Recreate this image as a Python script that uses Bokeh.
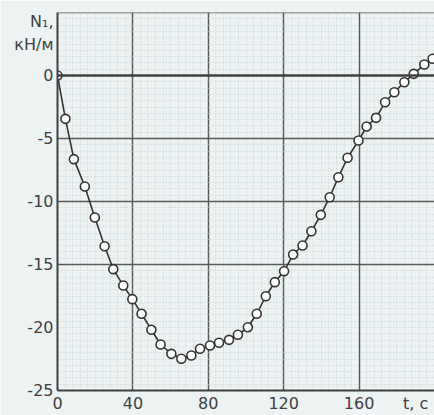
from bokeh.plotting import figure
from bokeh.models import FixedTicker, Span, Range1d
from bokeh.embed import file_html
from bokeh.resources import INLINE

# data
t_s = [0, 4.2, 8.7, 14.5, 19.8, 25.0, 29.6, 34.9, 39.7, 44.6, 49.8, 54.7, 60.4, 65.7,
       71.0, 75.6, 80.9, 85.7, 91.0, 95.7, 101.0, 105.7, 110.5, 115.3, 120.2, 125.0,
       130.0, 134.7, 139.7, 144.4, 149.0, 153.9, 159.7, 164.0, 169.0, 173.8, 178.7,
       184.0, 189.0, 194.6, 199.0]
n1 = [0, -3.44, -6.64, -8.81, -11.27, -13.55, -15.37, -16.67, -17.75, -18.91, -20.18,
      -21.35, -22.09, -22.48, -22.22, -21.69, -21.43, -21.21, -20.98, -20.58, -19.98,
      -18.91, -17.52, -16.4, -15.53, -14.21, -13.49, -12.36, -11.06, -9.66, -8.07,
      -6.53, -5.16, -4.05, -3.36, -2.12, -1.33, -0.53, 0.13, 0.87, 1.33]
x_ticks = [0, 40, 80, 120, 160]
y_ticks = [0, -5, -10, -15, -20, -25]
x_grid = [40, 80, 120, 160]
y_grid = [5, -5, -10, -15]
x_title = "t, c"
y_title = ["N₁,", "кН/м"]

BG = "#edf3f3"
INK = "#404040"
FONT = "DejaVu Sans"

p = figure(width=434, height=415, output_backend="svg", toolbar_location=None,
           x_range=Range1d(0, 200), y_range=Range1d(-25, 5),
           min_border_left=57, min_border_right=0, min_border_top=12, min_border_bottom=25,
           background_fill_color=BG, border_fill_color=BG, outline_line_color=None)

# grids
p.xgrid.ticker = FixedTicker(ticks=x_grid, minor_ticks=list(range(0, 201, 4)))
p.ygrid.ticker = FixedTicker(ticks=y_grid, minor_ticks=[v / 2 for v in range(-50, 11)])
for g in (p.xgrid, p.ygrid):
    g.grid_line_color = "#5a5a5a"
    g.grid_line_width = 1.5
    g.minor_grid_line_color = "#c6d2d2"
    g.minor_grid_line_dash = "1 2"
    g.minor_grid_line_width = 1

# axes; axis titles are placed as extra tick labels beside the frame
X_TITLE_POS = 190
Y_TITLE_POS = [4.3, 2.5]
p.xaxis.ticker = FixedTicker(ticks=x_ticks + [X_TITLE_POS])
p.yaxis.ticker = FixedTicker(ticks=y_ticks + Y_TITLE_POS)
xo = {v: str(v) for v in x_ticks}
xo[X_TITLE_POS] = x_title
yo = {v: str(v) for v in y_ticks}
for pos, txt in zip(Y_TITLE_POS, y_title):
    yo[pos] = txt
p.xaxis.major_label_overrides = xo
p.yaxis.major_label_overrides = yo
for ax in (p.xaxis, p.yaxis):
    ax.axis_line_color = "#404040"
    ax.axis_line_width = 2
    ax.major_tick_line_color = None
    ax.minor_tick_line_color = None
    ax.major_tick_out = 0
    ax.major_tick_in = 0
    ax.major_label_text_font = FONT
    ax.major_label_text_font_size = "16px"
    ax.major_label_text_color = INK
    ax.major_label_standoff = 4
p.xaxis.major_label_standoff = 3

p.add_layout(Span(location=0, dimension="width", line_color="#404040", line_width=2.5))
p.add_layout(Span(location=5, dimension="width", line_color="#505050", line_width=1.5))

# curve
p.line(t_s, n1, line_color="#333333", line_width=1.6)
p.scatter(t_s, n1, size=9, fill_color="white", line_color="#333333", line_width=1.6)

open("out.html", "w").write(file_html(p, INLINE))
